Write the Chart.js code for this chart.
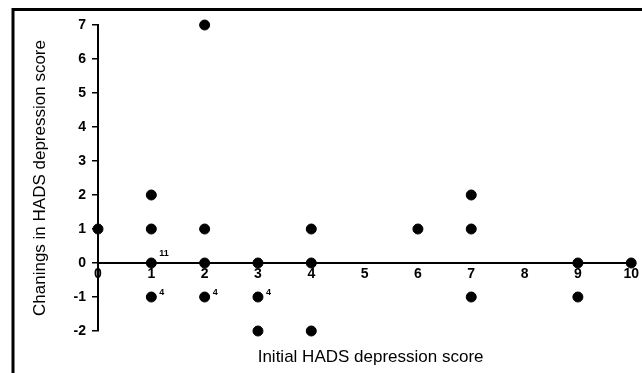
<!DOCTYPE html>
<html>
<head>
<meta charset="utf-8">
<title>HADS depression score</title>
<script src="https://cdn.jsdelivr.net/npm/chart.js@4.4.1/dist/chart.umd.min.js"></script>
<style>
  html, body { margin: 0; padding: 0; background: #fff; }
  #wrap { width: 642px; height: 373px; }
</style>
</head>
<body>
<div id="wrap"><canvas id="hads-chart" width="642" height="373"></canvas></div>
<script>
// Initial HADS score vs change in HADS score
const initialScores = [0, 1, 1, 1, 1, 2, 2, 2, 2, 3, 3, 3, 4, 4, 4, 6, 7, 7, 7, 9, 9, 10];
const scoreChanges  = [1, 2, 1, 0, -1, 7, 1, 0, -1, 0, -1, -2, 1, 0, -2, 1, 2, 1, -1, 0, -1, 0];

// counts printed beside overlapping points
const noteX    = [1, 1, 2, 3];
const noteY    = [0, -1, -1, -1];
const noteText = ['11', '4', '4', '4'];

const xTicks = [0, 1, 2, 3, 4, 5, 6, 7, 8, 9, 10];
const yTicks = [-2, -1, 0, 1, 2, 3, 4, 5, 6, 7];

const xTitle = 'Initial HADS depression score';
const yTitle = 'Chanings in HADS depression score';

const FONT = "'Liberation Sans', Arial, sans-serif";

// frame, x-axis title and the small count labels
const extras = {
  id: 'extras',
  afterDraw(chart) {
    const { ctx, scales: { x, y }, chartArea } = chart;
    ctx.save();
    ctx.strokeStyle = '#000';
    ctx.lineWidth = 3;
    ctx.beginPath();
    ctx.moveTo(13, 373); ctx.lineTo(13, 9.5); ctx.lineTo(642, 9.5);
    ctx.stroke();

    ctx.fillStyle = '#000';
    ctx.font = '17px ' + FONT;
    ctx.textAlign = 'center';
    ctx.textBaseline = 'middle';
    ctx.fillText(xTitle, (chartArea.left + chartArea.right) / 2 + 6, 357);

    ctx.font = 'bold 9px ' + FONT;
    ctx.textAlign = 'left';
    noteText.forEach((t, i) => {
      const px = x.getPixelForValue(noteX[i]);
      const py = y.getPixelForValue(noteY[i]);
      const dy = t.length > 1 ? -9 : -4;
      ctx.fillText(t, px + 8, py + dy);
    });
    ctx.restore();
  }
};

new Chart(document.getElementById('hads-chart'), {
  type: 'scatter',
  data: {
    datasets: [{
      data: initialScores.map((v, i) => ({ x: v, y: scoreChanges[i] })),
      backgroundColor: '#000',
      borderColor: '#000',
      pointRadius: 5,
      pointHoverRadius: 5,
      clip: false
    }]
  },
  options: {
    responsive: false,
    devicePixelRatio: 1,
    animation: false,
    layout: { padding: { left: 0, top: 25, right: 9, bottom: 42 } },
    plugins: { legend: { display: false }, tooltip: { enabled: false } },
    scales: {
      x: {
        type: 'linear',
        position: { y: 0 },
        min: 0, max: 10,
        afterBuildTicks: s => { s.ticks = xTicks.map(v => ({ value: v })); },
        grid: { display: false, drawTicks: false, tickLength: 0 },
        border: { display: true, color: '#000', width: 2 },
        ticks: { color: '#000', padding: 3, maxRotation: 0, font: { family: FONT, size: 14, weight: 'bold' } }
      },
      y: {
        type: 'linear',
        position: 'left',
        min: -2, max: 7,
        afterBuildTicks: s => { s.ticks = yTicks.map(v => ({ value: v })); },
        afterFit: s => { s.width = 98; },
        grid: { display: true, drawOnChartArea: false, drawTicks: true, tickLength: 6, color: '#000', lineWidth: 1.5 },
        border: { display: true, color: '#000', width: 2 },
        ticks: { color: '#000', padding: 6, font: { family: FONT, size: 14, weight: 'bold' } },
        title: { display: true, text: yTitle, color: '#000', padding: { top: 30, bottom: 0 }, font: { family: FONT, size: 17 } }
      }
    }
  },
  plugins: [extras]
});
</script>
</body>
</html>
